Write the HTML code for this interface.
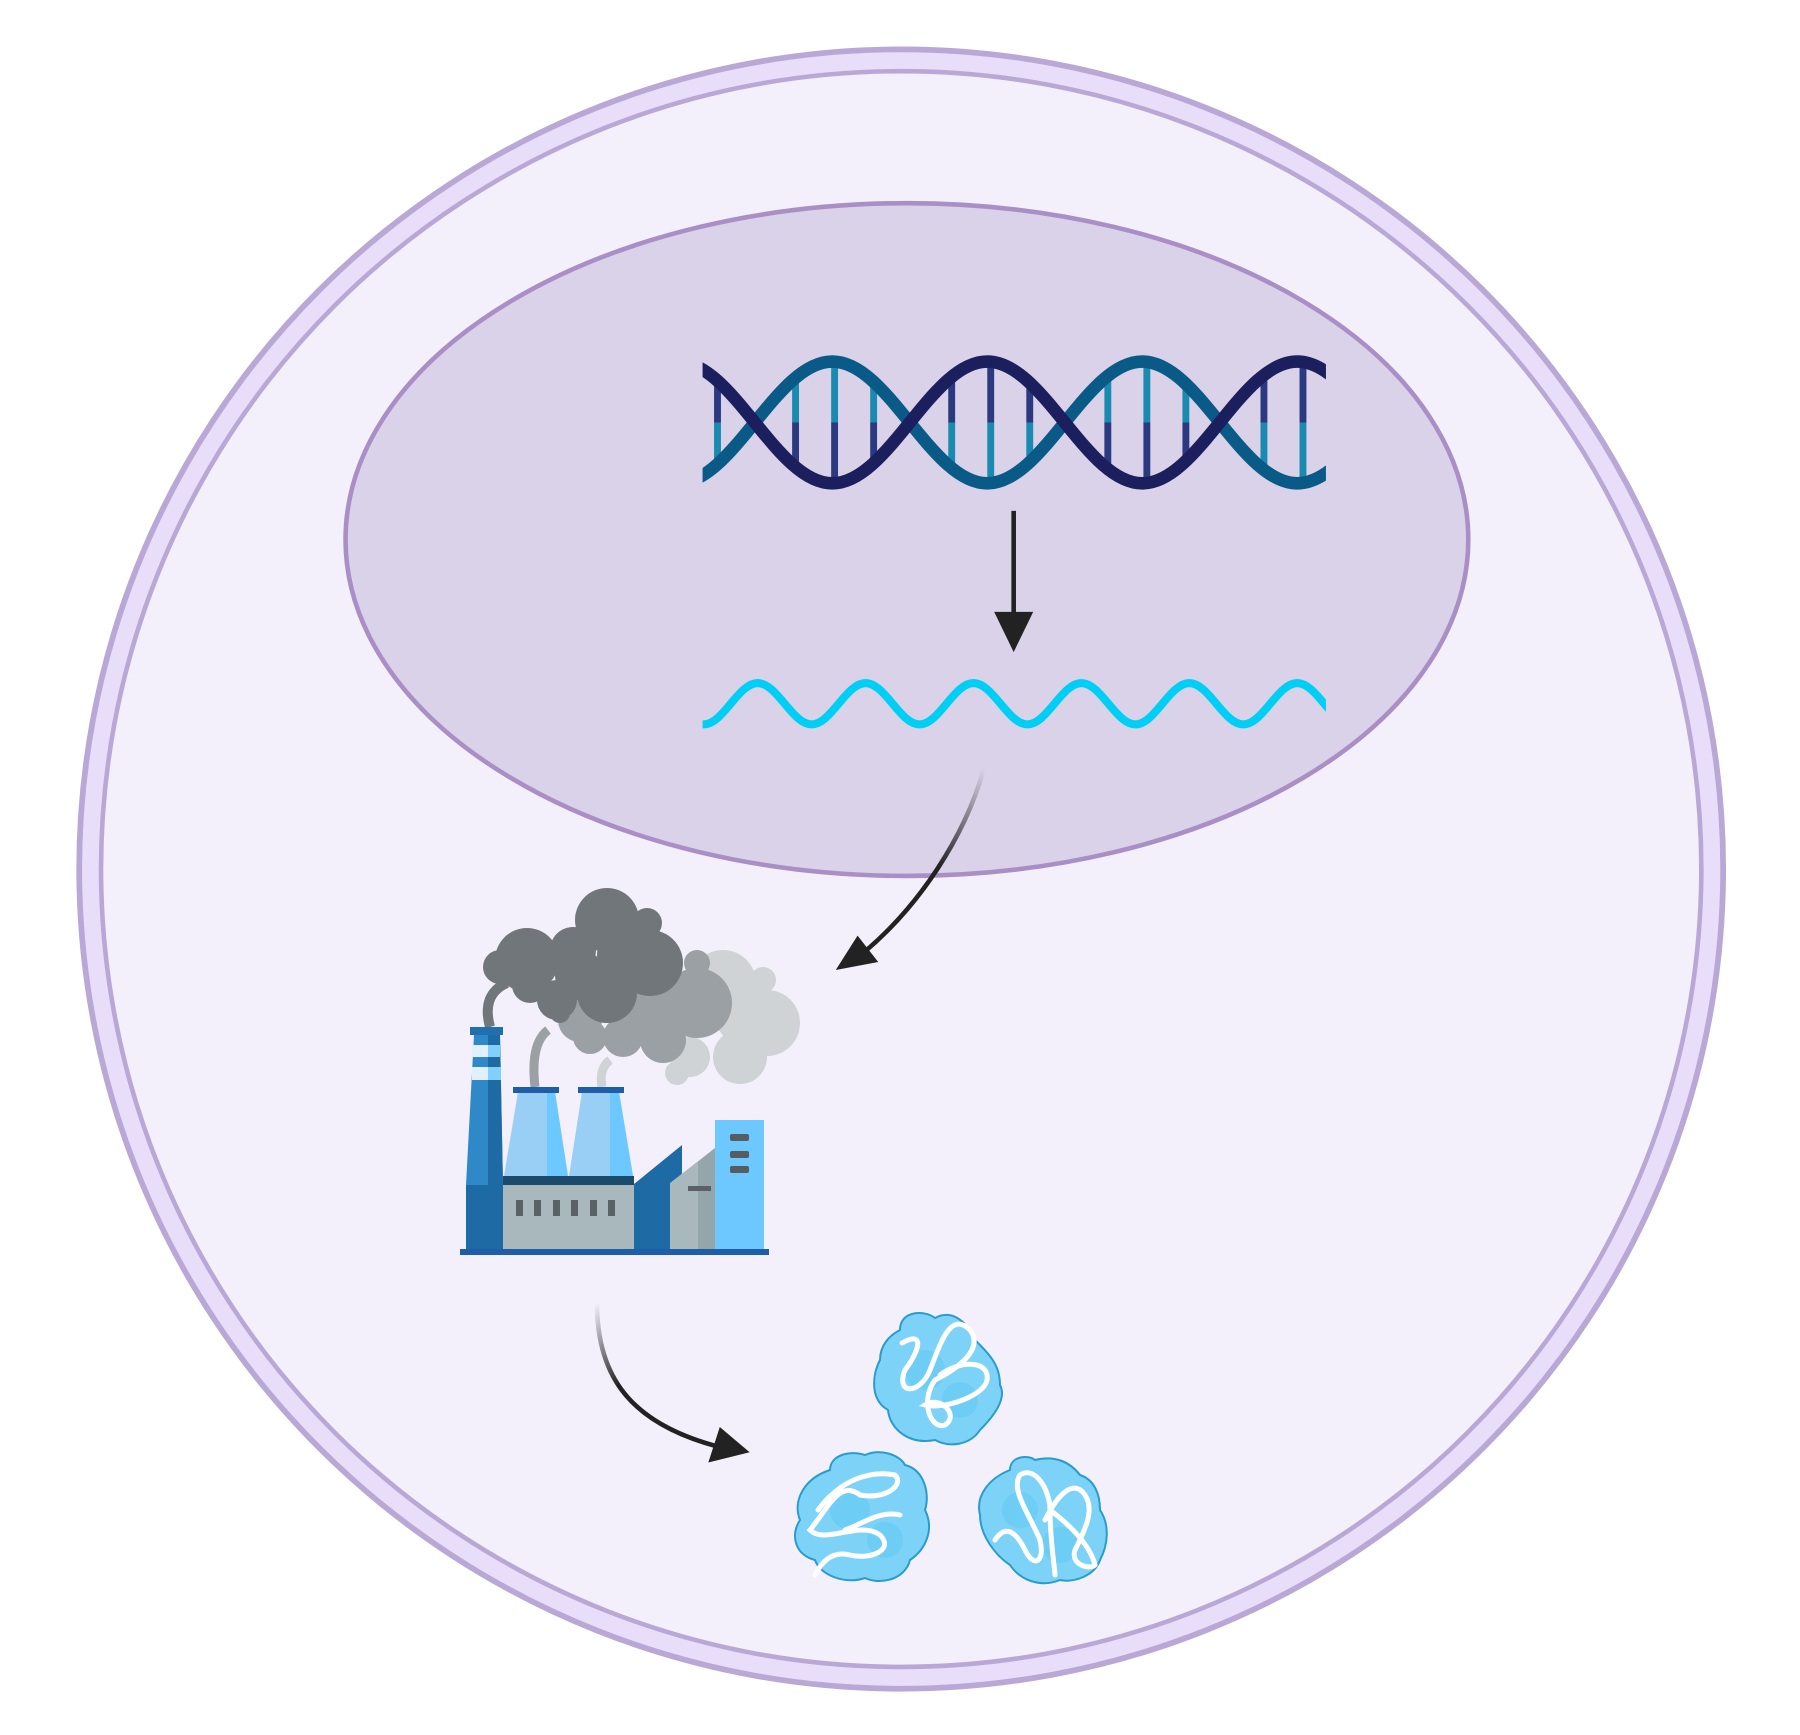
<!DOCTYPE html>
<html><head><meta charset="utf-8"><style>html,body{margin:0;padding:0;background:#fff}svg{display:block}</style></head>
<body>
<svg width="1800" height="1735" viewBox="0 0 1800 1735" xmlns="http://www.w3.org/2000/svg">
<defs>
<clipPath id="dc"><rect x="612" y="290" width="543" height="150"/></clipPath>
<clipPath id="mc"><rect x="612" y="580" width="543" height="70"/></clipPath>
<linearGradient id="g1" x1="857" y1="670" x2="760" y2="830" gradientUnits="userSpaceOnUse"><stop offset="0" stop-color="#222" stop-opacity="0"/><stop offset="0.5" stop-color="#222"/><stop offset="1" stop-color="#222"/></linearGradient>
<linearGradient id="g2" x1="520" y1="1135" x2="600" y2="1250" gradientUnits="userSpaceOnUse"><stop offset="0" stop-color="#222" stop-opacity="0"/><stop offset="0.5" stop-color="#222"/><stop offset="1" stop-color="#222"/></linearGradient>
</defs>
<g transform="scale(1.148)">
<ellipse cx="785" cy="757" rx="716" ry="714" fill="#e8defa" stroke="#b9a8d6" stroke-width="5"/>
<ellipse cx="785" cy="757" rx="697" ry="695" fill="#f3f0fb" stroke="#b9a8d6" stroke-width="4"/>
<ellipse cx="790" cy="470" rx="489" ry="293" fill="#dad2e8" stroke="#a98fc6" stroke-width="4"/>
<g clip-path="url(#dc)">
<g stroke-width="6">
<line x1="625" y1="332" x2="625" y2="368" stroke="#2b3a80"/><line x1="625" y1="368" x2="625" y2="404" stroke="#1a8ab0"/>
<line x1="693" y1="329" x2="693" y2="368" stroke="#1a8ab0"/><line x1="693" y1="368" x2="693" y2="407" stroke="#2b3a80"/>
<line x1="727" y1="315" x2="727" y2="368" stroke="#1a8ab0"/><line x1="727" y1="368" x2="727" y2="421" stroke="#2b3a80"/>
<line x1="761" y1="333" x2="761" y2="368" stroke="#1a8ab0"/><line x1="761" y1="368" x2="761" y2="403" stroke="#2b3a80"/>
<line x1="829" y1="328" x2="829" y2="368" stroke="#2b3a80"/><line x1="829" y1="368" x2="829" y2="408" stroke="#1a8ab0"/>
<line x1="863" y1="315" x2="863" y2="368" stroke="#2b3a80"/><line x1="863" y1="368" x2="863" y2="421" stroke="#1a8ab0"/>
<line x1="897" y1="334" x2="897" y2="368" stroke="#2b3a80"/><line x1="897" y1="368" x2="897" y2="402" stroke="#1a8ab0"/>
<line x1="965" y1="327" x2="965" y2="368" stroke="#1a8ab0"/><line x1="965" y1="368" x2="965" y2="409" stroke="#2b3a80"/>
<line x1="999" y1="315" x2="999" y2="368" stroke="#1a8ab0"/><line x1="999" y1="368" x2="999" y2="421" stroke="#2b3a80"/>
<line x1="1033" y1="334" x2="1033" y2="368" stroke="#1a8ab0"/><line x1="1033" y1="368" x2="1033" y2="402" stroke="#2b3a80"/>
<line x1="1101" y1="327" x2="1101" y2="368" stroke="#2b3a80"/><line x1="1101" y1="368" x2="1101" y2="409" stroke="#1a8ab0"/>
<line x1="1135" y1="315" x2="1135" y2="368" stroke="#2b3a80"/><line x1="1135" y1="368" x2="1135" y2="421" stroke="#1a8ab0"/>
</g>
<path d="M590,421 C639,421 676,315 725,315 C774,315 811,421 860,421 C909,421 946,315 995,315 C1044,315 1081,421 1130,421 C1179,421 1216,315 1265,315" fill="none" stroke="#0a5a88" stroke-width="11"/>
<path d="M590,315 C639,315 676,421 725,421 C774,421 811,315 860,315 C909,315 946,421 995,421 C1044,421 1081,315 1130,315 C1179,315 1216,421 1265,421" fill="none" stroke="#1b1f5e" stroke-width="11"/>
</g>
<line x1="883" y1="445" x2="883" y2="540" stroke="#222" stroke-width="4"/>
<polygon points="866,533 900,533 883,568" fill="#222"/>
<path clip-path="url(#mc)" d="M566,595 C583,595 596,631 613,631 C630,631 643,595 660,595 C677,595 690,631 707,631 C724,631 737,595 754,595 C771,595 784,631 801,631 C818,631 831,595 848,595 C865,595 878,631 895,631 C912,631 925,595 942,595 C959,595 972,631 989,631 C1006,631 1019,595 1036,595 C1053,595 1066,631 1083,631 C1100,631 1113,595 1130,595 C1147,595 1160,631 1177,631" fill="none" stroke="#00cff5" stroke-width="7"/>
<path d="M857,670 C840,730 800,790 752,830" fill="none" stroke="url(#g1)" stroke-width="4"/>
<polygon points="728,845 747,815 765,838" fill="#222"/>
<path d="M520,1135 C520,1200 550,1240 625,1260" fill="none" stroke="url(#g2)" stroke-width="4"/>
<polygon points="653,1265 617,1274 627,1243" fill="#222"/>
</g>
<!-- factory in original coords -->
<g>
<path d="M602,1087 C600,1075 602,1066 610,1060" fill="none" stroke="#cfd3d6" stroke-width="9"/>
<g fill="#cfd3d6"><circle cx="723" cy="983" r="33"/><circle cx="767" cy="1023" r="33"/><circle cx="740" cy="1057" r="27"/><circle cx="690" cy="1057" r="20"/><circle cx="677" cy="1073" r="12"/><circle cx="763" cy="980" r="13"/><circle cx="745" cy="1015" r="30"/></g>
<path d="M535,1087 C532,1060 535,1040 548,1030" fill="none" stroke="#9aa0a4" stroke-width="9"/>
<g fill="#9aa0a4"><circle cx="697" cy="1003" r="35"/><circle cx="663" cy="1040" r="23"/><circle cx="623" cy="1037" r="20"/><circle cx="697" cy="963" r="13"/><circle cx="590" cy="1037" r="17"/><circle cx="650" cy="1010" r="30"/><circle cx="580" cy="1020" r="22"/></g>
<path d="M490,1027 C484,1005 490,990 507,983" fill="none" stroke="#71767a" stroke-width="10"/>
<g fill="#71767a"><circle cx="527" cy="960" r="32"/><circle cx="573" cy="950" r="23"/><circle cx="607" cy="920" r="32"/><circle cx="647" cy="923" r="15"/><circle cx="650" cy="963" r="33"/><circle cx="500" cy="967" r="17"/><circle cx="557" cy="1000" r="20"/><circle cx="607" cy="993" r="30"/><circle cx="560" cy="1013" r="10"/><circle cx="580" cy="975" r="25"/><circle cx="625" cy="955" r="28"/><circle cx="530" cy="985" r="18"/></g>
<rect x="466" y="1185" width="37" height="65" fill="#1e6aa5"/>
<polygon points="474,1035 500,1035 503,1185 466,1185" fill="#2f88c8"/>
<polygon points="488,1035 500,1035 503,1185 488,1185" fill="#1e6aa5"/>
<rect x="470" y="1027" width="33" height="8" fill="#2070b0"/>
<rect x="472" y="1045" width="28" height="12" fill="#e0f0ff"/><rect x="488" y="1045" width="12" height="12" fill="#7fd0ff"/>
<rect x="472" y="1067" width="29" height="13" fill="#e0f0ff"/><rect x="488" y="1067" width="13" height="13" fill="#7fd0ff"/>
<polygon points="518,1092 555,1092 568,1176 504,1176" fill="#9acff5"/>
<polygon points="547,1092 555,1092 568,1176 547,1176" fill="#6cc8ff"/>
<polygon points="582,1092 619,1092 633,1176 569,1176" fill="#9acff5"/>
<polygon points="610,1092 619,1092 633,1176 610,1176" fill="#6cc8ff"/>
<rect x="513" y="1087" width="46" height="6" fill="#1e5ea8"/>
<rect x="578" y="1087" width="46" height="6" fill="#1e5ea8"/>
<rect x="503" y="1176" width="131" height="74" fill="#a8b8bc"/>
<rect x="503" y="1176" width="131" height="9" fill="#1b4a6b"/>
<g fill="#5a6266"><rect x="516" y="1200" width="7" height="16"/><rect x="534" y="1200" width="7" height="16"/><rect x="553" y="1200" width="7" height="16"/><rect x="571" y="1200" width="7" height="16"/><rect x="590" y="1200" width="7" height="16"/><rect x="608" y="1200" width="7" height="16"/></g>
<polygon points="634,1184 682,1145 682,1250 634,1250" fill="#1e6aa5"/>
<polygon points="670,1183 715,1148 715,1250 670,1250" fill="#a8b8bc"/>
<polygon points="698,1162 715,1148 715,1250 698,1250" fill="#94a6aa"/>
<rect x="688" y="1186" width="23" height="5" fill="#5a6266"/>
<rect x="715" y="1120" width="49" height="130" fill="#6cc8ff"/>
<g fill="#555d61"><rect x="730" y="1134" width="19" height="7" rx="2"/><rect x="730" y="1151" width="19" height="7" rx="2"/><rect x="730" y="1166" width="19" height="7" rx="2"/></g>
<rect x="460" y="1249" width="309" height="6" fill="#1e5ea8"/>
</g>
<!-- proteins (original coords) -->
<g stroke="#2a9ccc" stroke-width="2" fill="#7dd3f7">
<path d="M900,1330 C900,1310 925,1310 935,1318 C950,1310 965,1318 975,1340 C990,1355 1000,1365 1000,1385 C1008,1400 990,1420 980,1430 C970,1445 950,1448 935,1440 C910,1445 890,1430 888,1410 C870,1400 872,1375 880,1360 C880,1345 890,1335 900,1330 Z"/>
<path d="M830,1470 C830,1455 850,1450 865,1455 C880,1448 900,1455 905,1465 C925,1470 930,1495 925,1510 C935,1530 925,1550 910,1560 C905,1580 880,1585 865,1578 C845,1585 820,1575 815,1560 C795,1555 790,1535 800,1520 C792,1500 805,1478 830,1470 Z"/>
<path d="M1010,1470 C1010,1455 1030,1455 1035,1460 C1055,1455 1070,1462 1080,1475 C1095,1480 1100,1495 1100,1510 C1110,1525 1108,1545 1100,1560 C1095,1575 1075,1583 1060,1580 C1040,1588 1020,1580 1010,1565 C995,1555 980,1535 980,1515 C975,1495 990,1478 1010,1470 Z"/>
</g>
<g fill="#5ec9f5" opacity="0.5"><circle cx="925" cy="1370" r="20"/><circle cx="960" cy="1400" r="18"/><circle cx="850" cy="1510" r="20"/><circle cx="885" cy="1540" r="18"/><circle cx="1020" cy="1510" r="18"/><circle cx="1060" cy="1545" r="18"/></g>
<g fill="none" stroke="#fff" stroke-width="5" stroke-linecap="round">
<path d="M902,1343 C925,1330 920,1350 905,1370 C895,1395 920,1395 930,1370 C940,1345 950,1310 970,1330 C985,1350 955,1370 935,1380 C920,1400 930,1430 945,1425 C960,1415 940,1395 925,1405 C945,1410 985,1395 987,1380 C990,1360 960,1360 940,1375"/>
<path d="M818,1510 C840,1480 870,1470 895,1475 C905,1485 885,1500 860,1495 C840,1480 830,1505 810,1530 C825,1545 860,1520 880,1535 C895,1550 870,1560 850,1555 C830,1550 820,1565 815,1575 M900,1515 C880,1510 860,1525 845,1530"/>
<path d="M995,1540 C1005,1525 1015,1530 1025,1550 C1035,1570 1045,1560 1040,1540 C1030,1515 1010,1490 1020,1475 C1035,1465 1050,1490 1050,1510 C1050,1540 1055,1570 1055,1575 M1045,1520 C1060,1490 1075,1480 1085,1495 C1095,1510 1085,1530 1075,1550 C1070,1565 1090,1570 1095,1565 C1090,1545 1070,1525 1050,1510"/>
</g>
</svg>
</body></html>
